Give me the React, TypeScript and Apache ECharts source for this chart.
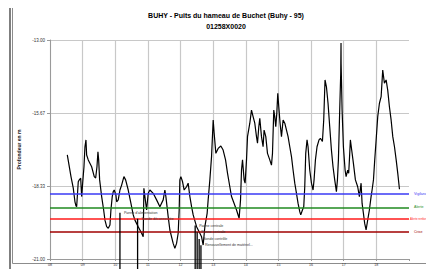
import React, { useEffect, useRef } from "react";
import * as echarts from "echarts";

const titleLine1 = "BUHY - Puits du hameau de Buchet (Buhy - 95)";
const titleLine2 = "01258X0020";
const yAxisName = "Profondeur en m";

// piezometric level: decimal year / depth (m)
const levelDates = [
  2008.530, 2008.643, 2008.713, 2008.765, 2008.796, 2008.817, 2008.866, 2008.897, 2008.940, 2008.970,
  2009.001, 2009.041, 2009.071, 2009.102, 2009.123, 2009.172, 2009.276, 2009.356, 2009.399, 2009.439,
  2009.469, 2009.491, 2009.521, 2009.583, 2009.644, 2009.684, 2009.736, 2009.785, 2009.837, 2009.867,
  2009.907, 2009.938, 2009.968, 2010.020, 2010.042, 2010.091, 2010.143, 2010.195, 2010.265, 2010.317,
  2010.397, 2010.480, 2010.550, 2010.602, 2010.703, 2010.807, 2010.856, 2010.877, 2010.908, 2010.960,
  2011.009, 2011.061, 2011.162, 2011.266, 2011.367, 2011.468, 2011.520, 2011.551, 2011.621, 2011.673,
  2011.774, 2011.826, 2011.878, 2011.927, 2011.958, 2011.979, 2012.010, 2012.062, 2012.111, 2012.184,
  2012.233, 2012.286, 2012.338, 2012.387, 2012.491, 2012.592, 2012.644, 2012.693, 2012.745, 2012.815,
  2012.846, 2012.898, 2012.950, 2013.000, 2013.030, 2013.082, 2013.153, 2013.235, 2013.305, 2013.379,
  2013.440, 2013.510, 2013.562, 2013.642, 2013.715, 2013.795, 2013.838, 2013.868, 2013.899, 2013.948,
  2013.978, 2014.021, 2014.052, 2014.122, 2014.174, 2014.223, 2014.275, 2014.327, 2014.358, 2014.398,
  2014.428, 2014.480, 2014.529, 2014.560, 2014.612, 2014.664, 2014.734, 2014.786, 2014.817, 2014.857,
  2014.887, 2014.918, 2014.949, 2014.979, 2015.010, 2015.050, 2015.093, 2015.142, 2015.194, 2015.295,
  2015.347, 2015.399, 2015.448, 2015.500, 2015.552, 2015.601, 2015.653, 2015.683, 2015.735, 2015.775,
  2015.806, 2015.836, 2015.876, 2015.907, 2015.959, 2016.011, 2016.060, 2016.091, 2016.133, 2016.182,
  2016.243, 2016.286, 2016.347, 2016.387, 2016.427, 2016.470, 2016.519, 2016.571, 2016.623, 2016.672,
  2016.724, 2016.776, 2016.807, 2016.837, 2016.877, 2016.908, 2016.917, 2016.920, 2016.950, 2016.990,
  2017.042, 2017.073, 2017.122, 2017.152, 2017.174, 2017.204, 2017.244, 2017.296, 2017.358, 2017.428,
  2017.480, 2017.532, 2017.563, 2017.603, 2017.642, 2017.685, 2017.734, 2017.786, 2017.838, 2017.869,
  2017.911, 2017.950, 2017.993, 2018.042, 2018.094, 2018.146, 2018.195, 2018.247, 2018.299, 2018.348,
  2018.400, 2018.452, 2018.503, 2018.555, 2018.607, 2018.656, 2018.708,
];
const levelValues = [
  -17.20, -17.99, -18.41, -18.91, -19.06, -19.09, -18.18, -18.11, -18.05, -18.72,
  -18.23, -17.63, -16.90, -16.65, -17.20, -17.38, -17.63, -17.99, -18.04, -17.63,
  -17.08, -17.38, -18.11, -18.72, -19.21, -19.58, -19.82, -19.88, -19.76, -19.21,
  -18.72, -18.54, -18.48, -18.66, -18.91, -18.84, -18.48, -18.30, -17.99, -18.11,
  -18.48, -18.97, -19.39, -19.58, -19.82, -20.06, -20.19, -18.42, -18.72, -19.21,
  -18.60, -18.48, -18.60, -18.84, -19.09, -18.84, -18.48, -18.72, -19.45, -19.94,
  -20.43, -20.61, -20.43, -20.06, -19.21, -18.11, -17.99, -18.18, -18.48, -18.36,
  -18.23, -18.72, -19.09, -19.39, -19.82, -20.06, -20.19, -20.49, -19.82, -19.33,
  -18.84, -18.11, -17.26, -15.92, -16.41, -17.14, -16.96, -16.87, -17.02, -17.38,
  -17.87, -18.36, -18.72, -18.97, -19.21, -19.51, -18.84, -17.75, -17.38, -18.11,
  -18.23, -17.38, -16.53, -16.04, -15.56, -15.80, -16.04, -16.53, -16.77, -16.17,
  -15.86, -16.53, -16.90, -16.29, -16.53, -17.14, -17.38, -17.57, -17.14, -15.56,
  -15.80, -16.17, -15.68, -14.95, -15.44, -16.04, -16.53, -15.92, -16.04, -16.53,
  -16.90, -17.26, -17.75, -18.23, -18.60, -18.97, -19.27, -19.39, -19.21, -19.09,
  -18.36, -17.14, -16.65, -16.90, -17.75, -18.23, -18.48, -18.11, -17.38, -16.90,
  -16.65, -16.59, -16.71, -15.92, -14.46, -14.71, -15.31, -16.17, -17.02, -17.63,
  -18.11, -18.54, -18.11, -17.38, -15.56, -14.22, -13.11, -13.85, -15.56, -16.90,
  -17.75, -17.99, -17.75, -17.87, -17.38, -16.65, -17.02, -17.50, -18.11, -18.36,
  -18.72, -18.23, -18.97, -19.33, -19.70, -19.94, -19.58, -19.21, -18.72, -18.48,
  -18.11, -17.38, -16.65, -15.80, -15.31, -15.07, -14.10, -14.58, -14.46, -14.83,
  -15.44, -15.92, -16.53, -16.90, -17.38, -17.87, -18.45,
];

// threshold levels
const thresholdNames = ["Vigilance", "Alerte", "Alerte renforcée", "Crise"];
const thresholdValues = [-18.62, -19.11, -19.53, -20.01];
const thresholdColors = ["#3a3af5", "#1f8a1f", "#ff1a1a", "#a00000"];

// events (vertical markers)
const eventDates = [2010.143, 2010.684, 2012.448, 2012.509, 2012.570, 2012.625];
const eventTops = [-19.31, -19.53, -19.78, -20.02, -20.27, -20.50];
const eventBottom = -21.7;
const eventLabels = [
  "Panne d'alimentation",
  "Sonde déconnectée",
  "Panne centrale",
  "Panne centrale",
  "Sonde contrôle",
  "Renouvellement de matériel...",
];

// axes
const xMin = 2008;
const xMax = 2019;
const yMin = -21;
const yMax = -13;
const yStep = 8 / 3;

export default function App() {
  const ref = useRef<HTMLDivElement>(null);

  useEffect(() => {
    if (!ref.current) return;
    const chart = echarts.init(ref.current, null, { renderer: "svg" });
    const font = "'Liberation Sans', Arial, sans-serif";

    const eventSeries = eventDates.map((d, i) => ({
      type: "line",
      name: "ev" + i,
      data: [
        [d, eventBottom],
        [d, eventTops[i]],
      ],
      clip: false,
      silent: true,
      symbol: "none",
      lineStyle: { color: "#000", width: 1.3 },
      endLabel: {
        show: true,
        formatter: eventLabels[i],
        fontSize: 3.6,
        color: "#333",
        fontFamily: font,
        distance: 4,
      },
      z: 5,
    }));

    chart.setOption({
      animation: false,
      backgroundColor: "#fff",
      grid: { left: 50, top: 40, right: 25, bottom: 18, containLabel: false },
      graphic: [
        {
          type: "rect",
          shape: { x: 12.5, y: 1.5, width: 418, height: 262 },
          style: { fill: "none", stroke: "#8c8c8c", lineWidth: 1 },
          silent: true,
        },
        {
          type: "line",
          shape: { x1: 10, y1: 0, x2: 10, y2: 277 },
          style: { stroke: "#555", lineWidth: 1.5 },
          silent: true,
        },
        {
          type: "text",
          x: 226,
          y: 15,
          style: {
            text: titleLine1,
            fontSize: 7,
            fontWeight: "bold",
            fontFamily: font,
            fill: "#000",
            textAlign: "center",
            textVerticalAlign: "middle",
          },
        },
        {
          type: "text",
          x: 226,
          y: 26,
          style: {
            text: titleLine2,
            fontSize: 7,
            fontWeight: "bold",
            fontFamily: font,
            fill: "#000",
            textAlign: "center",
            textVerticalAlign: "middle",
          },
        },
      ],
      xAxis: {
        type: "value",
        min: xMin,
        max: xMax,
        interval: 1,
        axisLine: { show: true, onZero: false, lineStyle: { color: "#9a9a9a", width: 1 } },
        axisTick: { show: true, length: 2, lineStyle: { color: "#9a9a9a" } },
        axisLabel: {
          fontSize: 3.6,
          color: "#333",
          fontFamily: font,
          margin: 4,
          formatter: (v: number) => (v >= xMax ? "" : String(Math.round(v)).slice(2)),
        },
        splitLine: { show: true, showMaxLine: false, lineStyle: { color: "#c8c8c8", width: 1.2 } },
      },
      yAxis: {
        type: "value",
        min: yMin,
        max: yMax,
        interval: yStep,
        name: yAxisName,
        nameLocation: "middle",
        nameRotate: 90,
        nameGap: 24,
        nameTextStyle: { fontSize: 5, fontWeight: "bold", color: "#222", fontFamily: font },
        axisLine: { show: true, onZero: false, lineStyle: { color: "#9a9a9a", width: 1 } },
        axisTick: { show: true, length: 3, lineStyle: { color: "#9a9a9a" } },
        axisLabel: {
          fontSize: 4.5,
          color: "#333",
          fontFamily: font,
          margin: 5,
          formatter: (v: number) => v.toFixed(2),
        },
        splitLine: { show: true, lineStyle: { color: "#c8c8c8", width: 1.2 } },
      },
      series: [
        {
          type: "line",
          name: "niveau",
          data: levelDates.map((d, i) => [d, levelValues[i]]),
          symbol: "none",
          silent: true,
          lineStyle: { color: "#000", width: 1.2 },
          z: 4,
          markLine: {
            silent: true,
            symbol: "none",
            animation: false,
            data: thresholdValues.map((v, i) => {
              const long = thresholdNames[i].length > 10;
              return {
                yAxis: v,
                lineStyle: { color: thresholdColors[i], width: 1.6, type: "solid" },
                label: {
                  show: true,
                  position: "end",
                  formatter: thresholdNames[i],
                  color: thresholdColors[i],
                  fontSize: long ? 2.9 : 3.6,
                  fontFamily: font,
                  distance: long ? 1 : 5,
                },
              };
            }),
          },
        },
        ...eventSeries,
      ],
    });
    return () => chart.dispose();
  }, []);

  return <div ref={ref} style={{ width: 434, height: 277, margin: -8 }} />;
}
